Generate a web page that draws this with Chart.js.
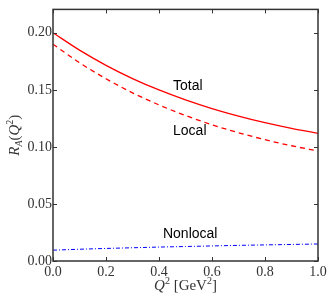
<!DOCTYPE html>
<html>
<head>
<meta charset="utf-8">
<script src="https://cdn.jsdelivr.net/npm/chart.js@4.4.1/dist/chart.umd.min.js"></script>
<style>
  html, body { margin: 0; padding: 0; background: #fff; }
  #wrap { width: 333px; height: 305px; }
</style>
</head>
<body>
<div id="wrap"><canvas id="myChart" width="333" height="305"></canvas></div>
<script>
// values
var q2 = [0.0, 0.1, 0.2, 0.3, 0.4, 0.5, 0.6, 0.7, 0.8, 0.9, 1.0];
var total = [0.200, 0.1848, 0.1715, 0.1599, 0.1499, 0.1412, 0.1336, 0.1270, 0.1212, 0.1162, 0.1119];
var local = [0.190, 0.1738, 0.1597, 0.1474, 0.1368, 0.1275, 0.1194, 0.1124, 0.1063, 0.1010, 0.0964];
var nonlocal = [0.0095, 0.0103, 0.011, 0.0116, 0.0122, 0.0127, 0.0132, 0.0137, 0.0141, 0.0145, 0.0149];
var xTicks = [0.0, 0.2, 0.4, 0.6, 0.8, 1.0];
var yTicks = [0.00, 0.05, 0.10, 0.15, 0.20];
var curveNames = ["Total", "Local", "Nonlocal"];

function pts(ys) {
  return q2.map((x, i) => ({x: x, y: ys[i]}));
}

var serif = "'Liberation Serif', 'DejaVu Serif', serif";
var sans = "'Liberation Sans', Arial, sans-serif";

// where the curve names sit (data coords, left/baseline)
var namePos = [[0.453, 0.150], [0.453, 0.110], [0.415, 0.0198]];

var framePlugin = {
  id: 'frame',
  afterDraw: (chart) => {
    var ctx = chart.ctx, a = chart.chartArea;
    var xs = chart.scales.x, ys = chart.scales.y;
    ctx.save();
    ctx.strokeStyle = '#333';
    ctx.lineWidth = 1.5;
    ctx.strokeRect(a.left, a.top, a.right - a.left, a.bottom - a.top);
    ctx.lineWidth = 1;
    ctx.beginPath();
    xTicks.forEach(v => {
      var px = Math.round(xs.getPixelForValue(v)) + 0.5;
      ctx.moveTo(px, a.bottom); ctx.lineTo(px, a.bottom - 4);
      ctx.moveTo(px, a.top); ctx.lineTo(px, a.top + 4);
    });
    yTicks.forEach(v => {
      var py = Math.round(ys.getPixelForValue(v)) + 0.5;
      ctx.moveTo(a.left, py); ctx.lineTo(a.left + 4, py);
      ctx.moveTo(a.right, py); ctx.lineTo(a.right - 4, py);
    });
    ctx.stroke();

    // curve names
    ctx.fillStyle = '#000';
    ctx.font = '14px ' + sans;
    ctx.textBaseline = 'alphabetic';
    curveNames.forEach((n, i) => {
      ctx.fillText(n, xs.getPixelForValue(namePos[i][0]), ys.getPixelForValue(namePos[i][1]));
    });

    // x title: Q^2 [GeV^2]
    ctx.fillStyle = '#333';
    var cx = (a.left + a.right) / 2, by = 290;
    var parts = [
      ['italic 15px ' + serif, 'Q', 0],
      ['10px ' + serif, '2', -6],
      ['15px ' + serif, ' [GeV', 0],
      ['10px ' + serif, '2', -6],
      ['15px ' + serif, ']', 0]
    ];
    var w = 0;
    parts.forEach(p => { ctx.font = p[0]; w += ctx.measureText(p[1]).width; });
    var x0 = cx - w / 2;
    parts.forEach(p => { ctx.font = p[0]; ctx.fillText(p[1], x0, by + p[2]); x0 += ctx.measureText(p[1]).width; });

    // y title: R_A(Q^2)
    var yparts = [
      ['italic 15px ' + serif, 'R', 0],
      ['italic 10px ' + serif, 'A', 3],
      ['15px ' + serif, '(', 0],
      ['italic 15px ' + serif, 'Q', 0],
      ['10px ' + serif, '2', -6],
      ['15px ' + serif, ')', 0]
    ];
    w = 0;
    yparts.forEach(p => { ctx.font = p[0]; w += ctx.measureText(p[1]).width; });
    ctx.translate(19, (a.top + a.bottom) / 2);
    ctx.rotate(-Math.PI / 2);
    x0 = -w / 2;
    yparts.forEach(p => { ctx.font = p[0]; ctx.fillText(p[1], x0, p[2]); x0 += ctx.measureText(p[1]).width; });
    ctx.restore();
  }
};

var chart = new Chart(document.getElementById('myChart'), {
  type: 'line',
  data: {
    datasets: [
      {label: curveNames[0], data: pts(total), borderColor: '#ff0000', borderWidth: 1.3, pointRadius: 0, cubicInterpolationMode: 'monotone', fill: false},
      {label: curveNames[1], data: pts(local), borderColor: '#ff0000', borderWidth: 1.3, borderDash: [5, 4], pointRadius: 0, cubicInterpolationMode: 'monotone', fill: false},
      {label: curveNames[2], data: pts(nonlocal), borderColor: '#0000ff', borderWidth: 1, borderDash: [4, 2, 1, 2], pointRadius: 0, cubicInterpolationMode: 'monotone', fill: false}
    ]
  },
  options: {
    responsive: false,
    animation: false,
    layout: {padding: {left: 0, right: 15, top: 5, bottom: 0}},
    plugins: {legend: {display: false}, tooltip: {enabled: false}},
    scales: {
      x: {
        type: 'linear', min: 0, max: 1,
        afterBuildTicks: s => { s.ticks = xTicks.map(v => ({value: v})); },
        afterFit: s => { s.height = 44; },
        grid: {display: false, drawTicks: false},
        border: {display: false},
        ticks: {color: '#333', font: {family: serif, size: 14}, padding: 3, maxRotation: 0,
          callback: v => v.toFixed(1)}
      },
      y: {
        type: 'linear', min: 0, max: 0.2205,
        afterBuildTicks: s => { s.ticks = yTicks.map(v => ({value: v})); },
        afterFit: s => { s.width = 53; },
        grid: {display: false, drawTicks: false},
        border: {display: false},
        ticks: {color: '#333', font: {family: serif, size: 14}, padding: 1,
          callback: v => v.toFixed(2)}
      }
    }
  },
  plugins: [framePlugin]
});
</script>
</body>
</html>
